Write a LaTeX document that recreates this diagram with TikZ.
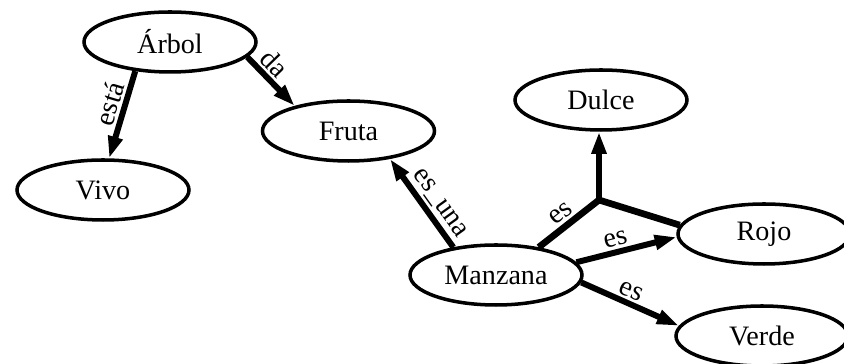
\documentclass[tikz,border=0pt]{standalone}
\usepackage{fontspec}
\setmainfont{Liberation Serif}
\usetikzlibrary{shapes.geometric,arrows.meta}

\begin{document}
\begin{tikzpicture}[
        concept/.style={draw, ellipse, line width=2pt, minimum width=3.44cm, minimum height=1.2cm, inner sep=0pt, font=\fontsize{16}{19}\selectfont},
        relation/.style={line width=3.4pt, -{Triangle[length=0.44cm,width=0.28cm]}},
        branch/.style={line width=3.8pt, line join=miter},
        tag/.style={sloped, above, inner sep=1.5pt, font=\fontsize{16}{19}\selectfont}
    ]
        \useasboundingbox (0,0) rectangle (16.88,7.28);
        \clip (0,0) rectangle (16.88,7.28);
        % the concepts
        \node[concept] (arbol) at (3.40,6.44) {Árbol};
        \node[concept] (fruta) at (6.97,4.66) {Fruta};
        \node[concept] (vivo) at (2.06,3.48) {Vivo};
        \node[concept] (dulce) at (12.02,5.28) {Dulce};
        \node[concept] (rojo) at (15.28,2.60) {Rojo};
        \node[concept] (manzana) at (9.92,1.78) {Manzana};
        \node[concept] (verde) at (15.24,0.56) {Verde};
        % point where the shared "es" splits
        \coordinate (split) at (11.98,3.28);
        % arrows out of the tree
        \draw[relation] (arbol.220) -- node[tag, pos=0.42] {está} (vivo.79);
        \draw[relation] (arbol.-11) -- node[tag, pos=0.34] {da} (fruta.155);
        % arrows out of the apple
        \draw[relation] (manzana.147) -- node[tag, pos=0.4] {es\_una} (fruta.-34);
        \draw[branch] (manzana.33) -- node[tag, pos=0.5] {es} (split) -- (rojo.174);
        \draw[relation] (split) -- (split |- dulce.south);
        \draw[relation] (manzana.9) -- node[tag, pos=0.42] {es} (rojo.182);
        \draw[relation] (manzana.-5) -- node[tag, pos=0.46] {es} (verde.173);
\end{tikzpicture}
\end{document}
